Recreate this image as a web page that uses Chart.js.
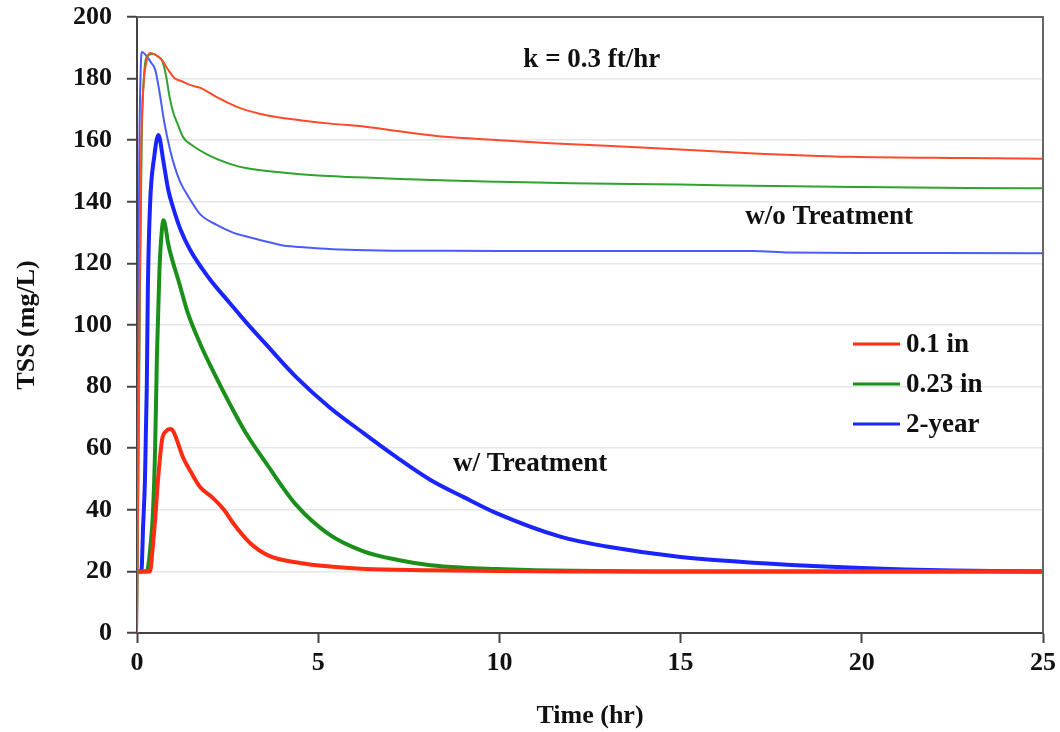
<!DOCTYPE html>
<html>
<head>
<meta charset="utf-8">
<title>TSS vs time</title>
<script src="https://cdn.jsdelivr.net/npm/chart.js@4.4.1/dist/chart.umd.min.js"></script>
<style>
  body { margin: 0; background: #fff; }
  #wrap { width: 1060px; height: 732px; }
</style>
</head>
<body>
<div id="wrap"><canvas id="myChart" width="1060" height="732"></canvas></div>
<script>

// time (hr) and TSS (mg/L)

// 0.1 in - w/o treatment
var t_red_open = [0, 0.04, 0.08, 0.12, 0.18, 0.25, 0.36, 0.5, 0.69, 0.85, 1.05, 1.2, 1.5, 1.75, 2.2, 2.85, 3.6, 4.5, 5.4, 6.3, 7.3, 8.6, 10, 11.4, 14.2, 16.9, 19.7, 22.9, 25];
var v_red_open = [0, 60, 120, 160, 178, 185, 188.3, 187.8, 186, 183, 180, 179.3, 177.8, 177, 174, 170.4, 168, 166.5, 165.3, 164.4, 162.8, 161, 160, 159, 157.5, 155.8, 154.6, 154.2, 154];

// 0.23 in - w/o treatment
var t_green_open = [0, 0.04, 0.08, 0.13, 0.2, 0.3, 0.45, 0.6, 0.69, 0.8, 0.9, 1.0, 1.13, 1.27, 1.5, 2, 2.65, 3, 4, 5, 6, 7.26, 8.6, 10, 12, 15, 17, 20, 22.9, 25];
var v_green_open = [0, 50, 110, 160, 182, 187.5, 188, 187, 186, 181, 174, 169, 165, 161, 158.5, 155, 152, 151, 149.5, 148.5, 148, 147.4, 146.9, 146.5, 146, 145.6, 145.2, 144.8, 144.5, 144.4];

// 2-year - w/o treatment
var t_blue_open = [0, 0.03, 0.06, 0.1, 0.14, 0.25, 0.4, 0.5, 0.63, 0.75, 0.91, 1.05, 1.19, 1.4, 1.74, 2.2, 2.65, 3.1, 3.6, 3.95, 4.5, 5.05, 5.4, 6.7, 8, 10, 12, 15, 17, 18, 20, 25];
var v_blue_open = [0, 80, 150, 182, 188.6, 187.5, 185, 183, 175, 166, 157, 151, 146.5, 142, 136, 132.5, 130, 128.5, 127, 126, 125.3, 124.8, 124.6, 124.2, 124.1, 124, 124, 124, 124, 123.5, 123.4, 123.3];

// 0.1 in - w/ treatment
var t_red_trt = [0.05, 0.2, 0.36, 0.42, 0.5, 0.58, 0.69, 0.8, 0.91, 1.0, 1.27, 1.5, 1.74, 2.1, 2.4, 2.65, 3.12, 3.6, 4.5, 5.4, 6.3, 8, 10, 12, 25];
var v_red_trt = [20, 20, 20, 26, 36.7, 49.7, 62.7, 65.5, 66.2, 65.5, 57, 52, 47.4, 43.8, 40, 35.7, 29.2, 25.3, 22.7, 21.5, 20.8, 20.4, 20.1, 20, 20];

// 0.23 in - w/ treatment
var t_green_trt = [0.03, 0.15, 0.25, 0.3, 0.37, 0.44, 0.5, 0.55, 0.62, 0.68, 0.73, 0.8, 0.85, 1.0, 1.13, 1.4, 1.74, 2.1, 2.6, 3.0, 3.6, 4.4, 5.3, 6.25, 7.2, 8.1, 9.0, 9.9, 11, 12, 14, 25];
var v_green_trt = [20, 20, 20, 21, 28, 39, 60, 90, 118, 130, 134, 131, 127, 120, 115, 104, 94, 85, 73.5, 65, 54.5, 41.5, 32, 26.5, 23.7, 22, 21.2, 20.8, 20.4, 20.2, 20, 20];

// 2-year - w/ treatment
var t_blue_trt = [0.03, 0.12, 0.17, 0.22, 0.27, 0.3, 0.36, 0.48, 0.59, 0.73, 0.86, 1.0, 1.2, 1.46, 2.0, 2.57, 3.0, 3.5, 4.4, 5.3, 6.25, 7.16, 8.1, 9.0, 9.9, 11.7, 13, 15, 17.5, 20, 22.5, 25];
var v_blue_trt = [20, 20, 35, 50, 80, 112, 139, 155, 161.7, 153, 144, 138, 131, 124.5, 115, 107, 101, 94.5, 83, 73.4, 64.9, 57.1, 49.7, 44.2, 39, 31.2, 28, 24.7, 22.5, 21.1, 20.3, 20];

var seriesNames = ["0.1 in", "0.23 in", "2-year"];
var x_ticks = [0, 5, 10, 15, 20, 25];
var y_ticks = [0, 20, 40, 60, 80, 100, 120, 140, 160, 180, 200];

var notes = [
    { text: "k = 0.3 ft/hr", x: 12.55, y: 186 },
    { text: "w/o Treatment", x: 19.1, y: 135 },
    { text: "w/ Treatment", x: 10.85, y: 55 }
];

const serif = "'Liberation Serif', 'Times New Roman', serif";

const toPoints = (xs, ys) => xs.map((x, i) => ({ x: x, y: ys[i] }));

const makeSet = (label, xs, ys, color, width) => ({
    label: label,
    data: toPoints(xs, ys),
    showLine: true,
    borderColor: color,
    backgroundColor: color,
    borderWidth: width,
    pointRadius: 0,
    cubicInterpolationMode: "monotone",
    fill: false
});

var datasets = [
    makeSet(seriesNames[0] + " w/o", t_red_open, v_red_open, "#ff4a2a", 2),
    makeSet(seriesNames[1] + " w/o", t_green_open, v_green_open, "#2ea32e", 2),
    makeSet(seriesNames[2] + " w/o", t_blue_open, v_blue_open, "#4b5cff", 2),
    makeSet(seriesNames[0], t_red_trt, v_red_trt, "#ff2b12", 4),
    makeSet(seriesNames[1], t_green_trt, v_green_trt, "#1a8f1a", 4),
    makeSet(seriesNames[2], t_blue_trt, v_blue_trt, "#1a24ff", 4)
];

// frame, text notes and the legend box inside the plot
const extras = {
    id: "extras",
    afterDraw(chart) {
        const ctx = chart.ctx;
        const a = chart.chartArea;
        const xs = chart.scales.x;
        const ys = chart.scales.y;

        ctx.save();
        ctx.strokeStyle = "#666";
        ctx.lineWidth = 2;
        ctx.beginPath();
        ctx.moveTo(a.left, a.top);
        ctx.lineTo(a.right, a.top);
        ctx.lineTo(a.right, a.bottom);
        ctx.stroke();

        ctx.fillStyle = "#111";
        ctx.font = "bold 27px " + serif;
        ctx.textAlign = "center";
        ctx.textBaseline = "middle";
        notes.forEach(n => {
            ctx.fillText(n.text, xs.getPixelForValue(n.x), ys.getPixelForValue(n.y));
        });

        // legend: the treated series
        let lx = a.left + 716;
        let ly = a.top + 327;
        ctx.textAlign = "left";
        for (let i = 3; i < 6; i++) {
            let ds = chart.data.datasets[i];
            ctx.strokeStyle = ds.borderColor;
            ctx.lineWidth = 3;
            ctx.beginPath();
            ctx.moveTo(lx, ly);
            ctx.lineTo(lx + 47, ly);
            ctx.stroke();
            ctx.fillStyle = "#111";
            ctx.fillText(ds.label, lx + 53, ly + 1);
            ly += 40;
        }
        ctx.restore();
    }
};

new Chart("myChart", {
    type: "scatter",
    data: { datasets: datasets },
    options: {
        responsive: false,
        animation: false,
        layout: { padding: { top: 17, right: 17, left: 0, bottom: 0 } },
        plugins: {
            legend: { display: false },
            tooltip: { enabled: false }
        },
        scales: {
            x: {
                type: "linear",
                min: 0,
                max: 25,
                afterBuildTicks: (s) => { s.ticks = x_ticks.map(v => ({ value: v })); },
                ticks: {
                    color: "#111",
                    padding: 5,
                    font: { family: serif, size: 26, weight: "bold" }
                },
                grid: { drawOnChartArea: false, tickLength: 10, tickColor: "#444", tickWidth: 2 },
                border: { color: "#444", width: 2 },
                title: {
                    display: true,
                    text: "Time (hr)",
                    color: "#111",
                    font: { family: serif, size: 26, weight: "bold" },
                    padding: { top: 0, bottom: 0 }
                },
                afterFit: (s) => {
                    s.height = 99;
                    s.paddingLeft = 0;
                    s.paddingRight = 0;
                }
            },
            y: {
                min: 0,
                max: 200,
                afterBuildTicks: (s) => { s.ticks = y_ticks.map(v => ({ value: v })); },
                ticks: {
                    color: "#111",
                    padding: 15,
                    font: { family: serif, size: 26, weight: "bold" }
                },
                grid: { color: "#e6e6e6", lineWidth: 1.5, tickLength: 10, tickColor: "#444", tickWidth: 2 },
                border: { color: "#444", width: 2 },
                title: {
                    display: true,
                    text: "TSS (mg/L)",
                    color: "#111",
                    font: { family: serif, size: 26, weight: "bold" },
                    padding: { top: 12, bottom: 0 }
                },
                afterFit: (s) => {
                    s.width = 137;
                    s.paddingTop = 0;
                    s.paddingBottom = 0;
                }
            }
        }
    },
    plugins: [extras]
});
</script>
</body>
</html>
